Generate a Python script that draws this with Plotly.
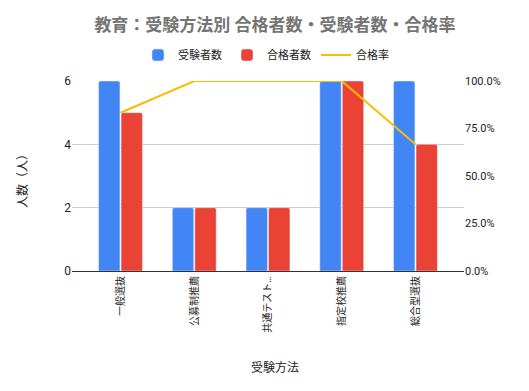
import plotly.graph_objects as go

categories = ["一般選抜", "公募制推薦", "共通テスト…", "指定校推薦", "総合型選抜"]
applicants = [6, 2, 2, 6, 6]
passed = [5, 2, 2, 6, 4]
pass_rate = [0.833, 1.0, 1.0, 1.0, 0.667]

font_family = "Roboto, Noto Sans CJK JP, Arial, sans-serif"

# page has an 8px body margin; figure coordinates = page coordinates - 8
W, H = 521, 383
OFF = 8
PL, PR, PT, PB = 72 - OFF, 464 - OFF, 81 - OFF, 271 - OFF
def px(x):
    return (x - OFF - PL) / (PR - PL)
def py(y):
    return (PB - (y - OFF)) / (PB - PT)

fig = go.Figure()
fig.add_trace(go.Bar(x=categories, y=applicants, name="受験者数", marker_color="#4285F4", yaxis="y"))
fig.add_trace(go.Bar(x=categories, y=passed, name="合格者数", marker_color="#EA4335", yaxis="y"))
fig.add_trace(go.Scatter(x=categories, y=pass_rate, name="合格率", mode="lines",
                         line=dict(color="#FBBC04", width=2), yaxis="y2"))

fig.update_layout(
    width=W, height=H,
    margin=dict(l=PL, r=W - PR, t=PT, b=H - PB, autoexpand=False),
    paper_bgcolor="white", plot_bgcolor="white",
    font=dict(family=font_family, size=11, color="#222222"),
    title=dict(text="<b>教育：受験方法別 合格者数・受験者数・合格率</b>",
               x=(275 - OFF) / W, xanchor="center", y=(H - (25 - OFF)) / H, yanchor="middle",
               font=dict(size=17, color="#757575", family=font_family)),
    legend=dict(orientation="h", x=px(266), xanchor="center",
                y=(H - (55 - OFF)) / H, yref="container", yanchor="middle",
                font=dict(size=11, color="#222222"), itemwidth=30),
    bargap=0.39, bargroupgap=0.05, barcornerradius=2,
    xaxis=dict(tickangle=-90, tickfont=dict(size=10), showgrid=False, automargin=False,
               range=[-0.658, 4.658],
               showline=True, linecolor="#333333", linewidth=1),
    yaxis=dict(range=[0, 6], tickvals=[0, 2, 4, 6], showgrid=True, gridcolor="#cccccc",
               zeroline=True, zerolinecolor="#333333", zerolinewidth=1, automargin=False,
               tickfont=dict(size=12), ticks="", ticklen=0),
    yaxis2=dict(range=[0, 1], tickvals=[0, 0.25, 0.5, 0.75, 1.0], tickformat=".1%",
                overlaying="y", side="right", showgrid=False, zeroline=False, automargin=False,
                tickfont=dict(size=11)),
    annotations=[
        dict(text="受験方法", x=px(275), y=py(367), xref="paper", yref="paper",
             xanchor="center", yanchor="middle", showarrow=False, font=dict(size=12)),
        dict(text="人数（人）", x=px(22), y=py(178), xref="paper", yref="paper",
             xanchor="center", yanchor="middle", showarrow=False, textangle=-90, font=dict(size=12)),
    ],
)

fig.write_html("out.html")
